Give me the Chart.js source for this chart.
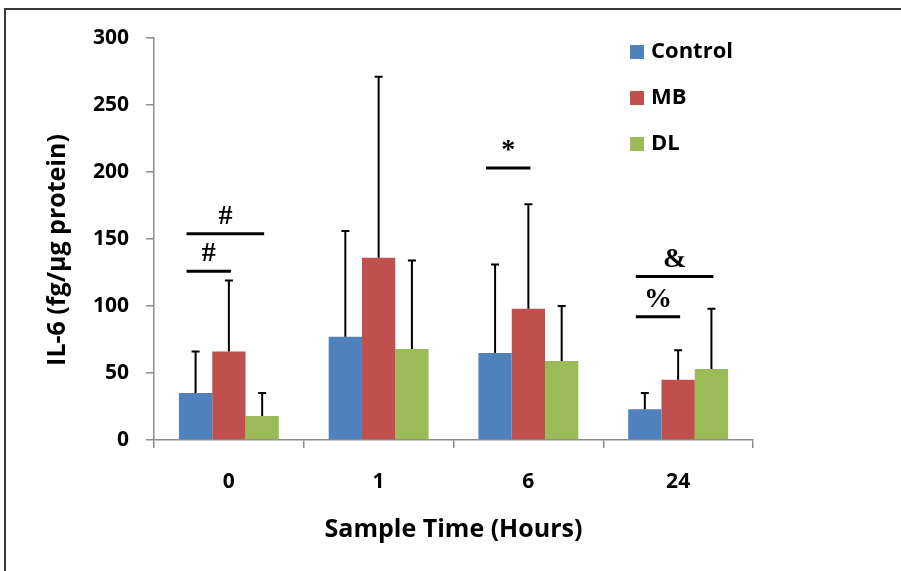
<!DOCTYPE html>
<html>
<head>
<meta charset="utf-8">
<script src="https://cdn.jsdelivr.net/npm/chart.js@4.4.1/dist/chart.umd.min.js"></script>
<style>
  html, body { margin: 0; padding: 0; background: #fff; }
  canvas { display: block; }
</style>
</head>
<body>
<canvas id="il6Chart" width="901" height="571"></canvas>
<script>
const hours = ['0', '1', '6', '24'];
const yTicks = [0, 50, 100, 150, 200, 250, 300];
const controlMean = [35, 77, 65, 23];
const controlSD = [31, 79, 66, 12];
const mbMean = [66, 136, 98, 45];
const mbSD = [53, 135, 78, 22];
const dlMean = [18, 68, 59, 53];
const dlSD = [17, 66, 41, 45];

// significance bars: category, first series, last series, height (y units), mark
const sigCategory = [0, 0, 2, 3, 3];
const sigFrom = [0, 0, 0, 0, 0];
const sigTo = [1, 2, 1, 1, 2];
const sigLevel = [126, 154, 203, 92, 122];
const sigMark = ['#', '#', '*', '%', '&'];

const sdBySeries = [controlSD, mbSD, dlSD];
const SANS = "'Open Sans', sans-serif";

const extrasPlugin = {
    id: 'extras',
    beforeDraw(chart) {
        const ctx = chart.ctx;
        ctx.save();
        ctx.fillStyle = '#fff';
        ctx.fillRect(0, 0, chart.width, chart.height);
        // frame around the figure
        ctx.strokeStyle = '#3a3a3a';
        ctx.lineWidth = 2;
        ctx.beginPath();
        ctx.moveTo(5, chart.height);
        ctx.lineTo(5, 9);
        ctx.lineTo(chart.width, 9);
        ctx.stroke();
        ctx.restore();
    },
    afterDatasetsDraw(chart) {
        const ctx = chart.ctx;
        const y = chart.scales.y;
        ctx.save();

        // error bars (upper only)
        ctx.strokeStyle = '#000';
        ctx.lineWidth = 2;
        chart.data.datasets.forEach((ds, i) => {
            const meta = chart.getDatasetMeta(i);
            meta.data.forEach((bar, j) => {
                const top = y.getPixelForValue(ds.data[j] + sdBySeries[i][j]);
                ctx.beginPath();
                ctx.moveTo(bar.x, bar.y);
                ctx.lineTo(bar.x, top);
                ctx.moveTo(bar.x - 4, top);
                ctx.lineTo(bar.x + 4, top);
                ctx.stroke();
            });
        });

        // significance lines
        ctx.lineWidth = 3;
        ctx.fillStyle = '#000';
        ctx.font = "bold 28px 'Liberation Serif', serif";
        ctx.textAlign = 'center';
        ctx.textBaseline = 'middle';
        sigCategory.forEach((c, k) => {
            const x1 = chart.getDatasetMeta(sigFrom[k]).data[c].x - 9;
            const x2 = chart.getDatasetMeta(sigTo[k]).data[c].x + 2;
            const ly = y.getPixelForValue(sigLevel[k]);
            ctx.beginPath();
            ctx.moveTo(x1, ly);
            ctx.lineTo(x2, ly);
            ctx.stroke();
            ctx.fillText(sigMark[k], (x1 + x2) / 2, ly - 17);
        });

        // axis titles
        const area = chart.chartArea;
        ctx.font = 'bold 25px ' + SANS;
        ctx.fillText('Sample Time (Hours)', (area.left + area.right) / 2, 530);
        ctx.save();
        ctx.translate(58, 250);
        ctx.rotate(-Math.PI / 2);
        ctx.fillText('IL-6 (fg/\u00b5g protein)', 0, 0);
        ctx.restore();

        // legend
        ctx.textAlign = 'left';
        ctx.font = 'bold 22px ' + SANS;
        chart.data.datasets.forEach((ds, i) => {
            const cy = 52 + i * 46;
            ctx.fillStyle = ds.backgroundColor;
            ctx.fillRect(630, cy - 7, 14, 14);
            ctx.fillStyle = '#000';
            ctx.fillText(ds.label, 651, cy);
        });
        ctx.restore();
    }
};

new Chart(document.getElementById('il6Chart'), {
    type: 'bar',
    data: {
        labels: hours,
        datasets: [
            { label: 'Control', data: controlMean, backgroundColor: '#4f81bd' },
            { label: 'MB', data: mbMean, backgroundColor: '#c0504d' },
            { label: 'DL', data: dlMean, backgroundColor: '#9bbb59' }
        ]
    },
    options: {
        responsive: false,
        animation: false,
        categoryPercentage: 0.667,
        barPercentage: 1.0,
        layout: { padding: { left: 0, top: 38, right: 148, bottom: 0 } },
        plugins: { legend: { display: false }, tooltip: { enabled: false } },
        scales: {
            x: {
                grid: { offset: true, drawOnChartArea: false, tickLength: 8, color: '#8c8c8c', lineWidth: 1.5 },
                border: { color: '#8c8c8c', width: 1.5 },
                ticks: { color: '#000', padding: 21, font: { family: SANS, size: 21, weight: 'bold' } },
                afterFit(scale) { scale.height = 131; }
            },
            y: {
                min: 0,
                max: 300,
                afterBuildTicks(scale) { scale.ticks = yTicks.map(v => ({ value: v })); },
                grid: { drawOnChartArea: false, tickLength: 8, color: '#8c8c8c', lineWidth: 1.5 },
                border: { color: '#8c8c8c', width: 1.5 },
                ticks: { color: '#000', padding: 17, font: { family: SANS, size: 21, weight: 'bold' } },
                afterFit(scale) { scale.width = 154; }
            }
        }
    },
    plugins: [extrasPlugin]
});
</script>
</body>
</html>
